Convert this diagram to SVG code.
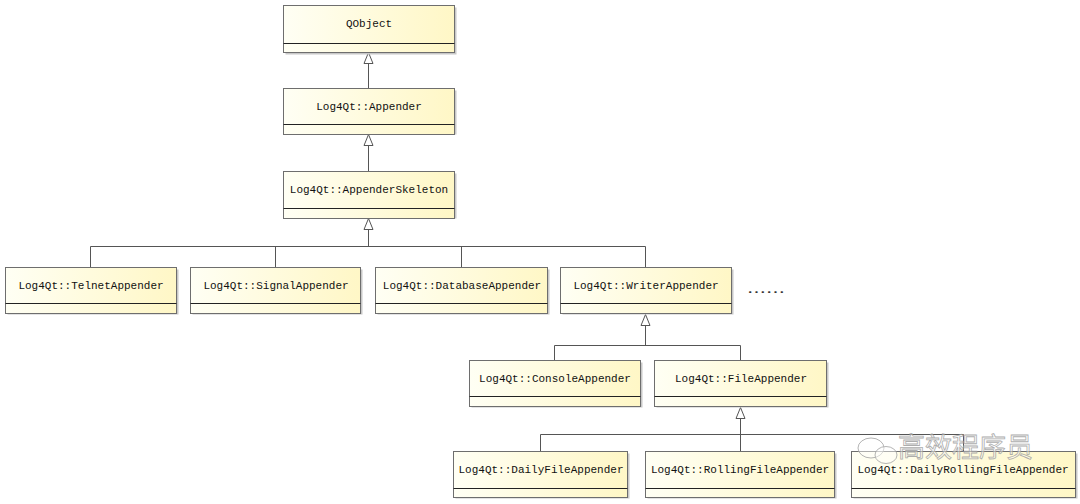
<svg xmlns="http://www.w3.org/2000/svg" width="1080" height="504" viewBox="0 0 1080 504">
  <style>
    .box { fill: url(#classFill); stroke: #6e6e6e; stroke-width: 1; }
    .shadow { fill: #c8c8c8; }
    .div { stroke: #222; stroke-width: 1; }
    .lbl { font-family: "Liberation Mono", "DejaVu Sans Mono", monospace; font-size: 11px; fill: #111; text-anchor: middle; }
    .dots { font-family: "Noto Sans CJK SC", "DejaVu Sans", sans-serif; font-size: 13px; fill: #333; }
    .wire { fill: none; stroke: #555; stroke-width: 1; }
    .head { fill: #fff; stroke: #555; stroke-width: 1; }
    .wm { font-family: "Noto Sans CJK SC", sans-serif; font-size: 27px; fill: #ffffff; fill-opacity: 0.55; stroke: #a0a0a0; stroke-width: 0.8; }
  </style>
  <defs>
    <linearGradient id="classFill" x1="0" y1="0" x2="1" y2="0">
      <stop offset="0" stop-color="#fffff4"/>
      <stop offset="1" stop-color="#fff7c6"/>
    </linearGradient>
    <!-- hollow generalization triangle, tip at origin pointing up -->
    <path id="gen" d="M0,0 L-4.5,11 L4.5,11 Z"/>
  </defs>
  <rect width="1080" height="504" fill="#ffffff"/>

  <!-- connectors -->
  <g id="connectors">
    <path class="wire" d="M368.5,63 V88"/>
    <use href="#gen" class="head" x="368.5" y="52.5"/>
    <path class="wire" d="M368.5,145 V171"/>
    <use href="#gen" class="head" x="368.5" y="134.5"/>
    <path class="wire" d="M368.5,229 V246.5 M90.5,267 V246.5 H645.5 V267 M275.5,246.5 V267 M461.5,246.5 V267"/>
    <use href="#gen" class="head" x="368.5" y="218.5"/>
    <path class="wire" d="M645.5,325 V345.5 M554.5,360 V345.5 H740.5 V360"/>
    <use href="#gen" class="head" x="645.5" y="314.5"/>
    <path class="wire" d="M740.5,418 V451 M540.5,451 V434.5 H963.5 V451"/>
    <use href="#gen" class="head" x="740.5" y="407.5"/>
  </g>

  <g id="QObject">
    <rect class="shadow" x="285.5" y="7.5" width="171" height="47"/>
    <rect class="box" x="283.5" y="5.5" width="171" height="47"/>
    <line class="div" x1="283.5" y1="43.5" x2="454.5" y2="43.5"/>
    <text class="lbl" x="369" y="27">QObject</text>
  </g>
  <g id="Appender">
    <rect class="shadow" x="285.5" y="90.5" width="171" height="44"/>
    <rect class="box" x="283.5" y="88.5" width="171" height="46"/>
    <line class="div" x1="283.5" y1="124.5" x2="454.5" y2="124.5"/>
    <text class="lbl" x="369" y="110">Log4Qt::Appender</text>
  </g>
  <g id="AppenderSkeleton">
    <rect class="shadow" x="285.5" y="173.5" width="171" height="45"/>
    <rect class="box" x="283.5" y="171.5" width="171" height="47"/>
    <line class="div" x1="283.5" y1="208.5" x2="454.5" y2="208.5"/>
    <text class="lbl" x="369" y="193">Log4Qt::AppenderSkeleton</text>
  </g>

  <g id="TelnetAppender">
    <rect class="shadow" x="7.5" y="269.5" width="171" height="45"/>
    <rect class="box" x="5.5" y="267.5" width="171" height="46"/>
    <line class="div" x1="5.5" y1="303.5" x2="176.5" y2="303.5"/>
    <text class="lbl" x="91" y="289">Log4Qt::TelnetAppender</text>
  </g>
  <g id="SignalAppender">
    <rect class="shadow" x="192.5" y="269.5" width="170" height="45"/>
    <rect class="box" x="190.5" y="267.5" width="170" height="46"/>
    <line class="div" x1="190.5" y1="303.5" x2="360.5" y2="303.5"/>
    <text class="lbl" x="276" y="289">Log4Qt::SignalAppender</text>
  </g>
  <g id="DatabaseAppender">
    <rect class="shadow" x="377.5" y="269.5" width="172" height="45"/>
    <rect class="box" x="375.5" y="267.5" width="172" height="46"/>
    <line class="div" x1="375.5" y1="303.5" x2="547.5" y2="303.5"/>
    <text class="lbl" x="462" y="289">Log4Qt::DatabaseAppender</text>
  </g>
  <g id="WriterAppender">
    <rect class="shadow" x="562.5" y="269.5" width="171" height="45"/>
    <rect class="box" x="560.5" y="267.5" width="171" height="46"/>
    <line class="div" x1="560.5" y1="303.5" x2="731.5" y2="303.5"/>
    <text class="lbl" x="646" y="289">Log4Qt::WriterAppender</text>
  </g>
  <text id="more" class="dots" x="747" y="297" textLength="38" lengthAdjust="spacingAndGlyphs">……</text>

  <g id="ConsoleAppender">
    <rect class="shadow" x="471.5" y="362.5" width="171" height="45"/>
    <rect class="box" x="469.5" y="360.5" width="171" height="46"/>
    <line class="div" x1="469.5" y1="396.5" x2="640.5" y2="396.5"/>
    <text class="lbl" x="555" y="382">Log4Qt::ConsoleAppender</text>
  </g>
  <g id="FileAppender">
    <rect class="shadow" x="656.5" y="362.5" width="172" height="45"/>
    <rect class="box" x="654.5" y="360.5" width="172" height="46"/>
    <line class="div" x1="654.5" y1="396.5" x2="826.5" y2="396.5"/>
    <text class="lbl" x="741" y="382">Log4Qt::FileAppender</text>
  </g>

  <g id="DailyFileAppender">
    <rect class="shadow" x="455.5" y="453.5" width="174" height="45"/>
    <rect class="box" x="453.5" y="451.5" width="174" height="46"/>
    <line class="div" x1="453.5" y1="488.5" x2="627.5" y2="488.5"/>
    <text class="lbl" x="541" y="473">Log4Qt::DailyFileAppender</text>
  </g>
  <g id="RollingFileAppender">
    <rect class="shadow" x="647.5" y="453.5" width="189" height="45"/>
    <rect class="box" x="645.5" y="451.5" width="189" height="46"/>
    <line class="div" x1="645.5" y1="488.5" x2="834.5" y2="488.5"/>
    <text class="lbl" x="740" y="473">Log4Qt::RollingFileAppender</text>
  </g>
  <g id="DailyRollingFileAppender">
    <rect class="shadow" x="853.5" y="453.5" width="224" height="45"/>
    <rect class="box" x="851.5" y="451.5" width="224" height="46"/>
    <line class="div" x1="851.5" y1="488.5" x2="1075.5" y2="488.5"/>
    <text class="lbl" x="963" y="473">Log4Qt::DailyRollingFileAppender</text>
  </g>

  <!-- channel mark -->
  <g id="mark" opacity="0.85">
    <ellipse cx="871" cy="448" rx="13" ry="10" fill="#ffffff" fill-opacity="0.5" stroke="#a8a8a8" stroke-width="1"/>
    <ellipse cx="886" cy="455" rx="11" ry="8.5" fill="#ffffff" fill-opacity="0.5" stroke="#a8a8a8" stroke-width="1"/>
    <text class="wm" x="898" y="457">高效程序员</text>
  </g>
</svg>
